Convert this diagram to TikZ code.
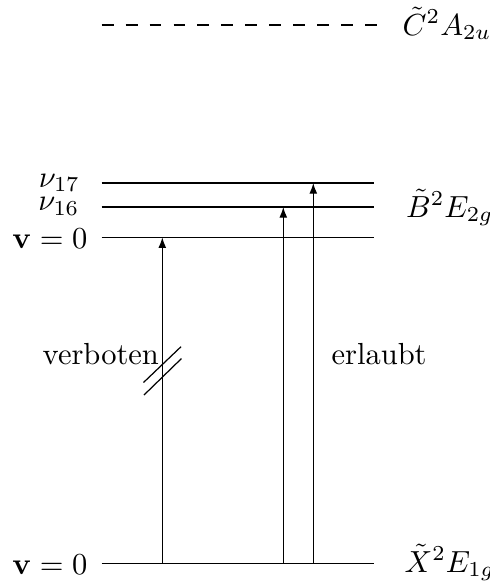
\documentclass[tikz,border=0pt]{standalone}
\usetikzlibrary{arrows.meta}
\begin{document}
\begin{tikzpicture}[x=0.3279pt,y=-0.3279pt,
  level/.style={line width=0.4pt},
  dashlevel/.style={line width=0.4pt, dash pattern=on 3.9pt off 3.95pt},
  trans/.style={line width=0.4pt, -{Latex[length=3.5pt,width=2.6pt]}},
  llab/.style={inner sep=0pt, anchor=base east},
  rlab/.style={inner sep=0pt, anchor=base west}]
\useasboundingbox (0,0) rectangle (490,584);
% level end points
\coordinate (Ca) at (101.7,25);    \coordinate (Cb) at (376.7,25);
\coordinate (N17a) at (101.7,183); \coordinate (N17b) at (374,183);
\coordinate (N16a) at (101.7,207); \coordinate (N16b) at (374,207);
\coordinate (B0a) at (101.7,237.3); \coordinate (B0b) at (374,237.3);
\coordinate (X0a) at (101.7,563.3); \coordinate (X0b) at (374,563.3);
% levels
\draw[dashlevel] (Ca) -- (Cb);
\draw[level] (N17a) -- (N17b);
\draw[level] (N16a) -- (N16b);
\draw[level] (B0a) -- (B0b);
\draw[level] (X0a) -- (X0b);
% transition points
\coordinate (s1) at (162.3,563.3); \coordinate (t1) at (162.3,237.3);
\coordinate (s2) at (283.3,563.3); \coordinate (t2) at (283.3,207);
\coordinate (s3) at (313.3,563.3); \coordinate (t3) at (313.3,183);
\draw[trans] (s1) -- (t1);
\draw[trans] (s2) -- (t2);
\draw[trans] (s3) -- (t3);
% forbidden mark
\coordinate (h1a) at (143.5,382.5); \coordinate (h1b) at (181,346.7);
\coordinate (h2a) at (144,395);     \coordinate (h2b) at (181.5,358.5);
\draw[level] (h1a) -- (h1b);
\draw[level] (h2a) -- (h2b);
% left labels
\node[llab] (l17) at (80.5,187) {$\nu_{17}$};
\node[llab] (l16) at (80,210.5) {$\nu_{16}$};
\node[llab] (lB) at (88,248.5) {$\mathbf{v}=0$};
\node[llab] (lX) at (88,574.5) {$\mathbf{v}=0$};
% right labels
\node[rlab] (rC) at (402,35) {$\tilde{C}^2A_{2u}$};
\node[rlab] (rB) at (405.5,217) {$\tilde{B}^2E_{2g}$};
\node[rlab] (rX) at (404,572) {$\tilde{X}^2E_{1g}$};
% transition labels
\node[llab] (verb) at (159.5,364) {verboten};
\node[rlab] (erl) at (331,364) {erlaubt};
\end{tikzpicture}
\end{document}
